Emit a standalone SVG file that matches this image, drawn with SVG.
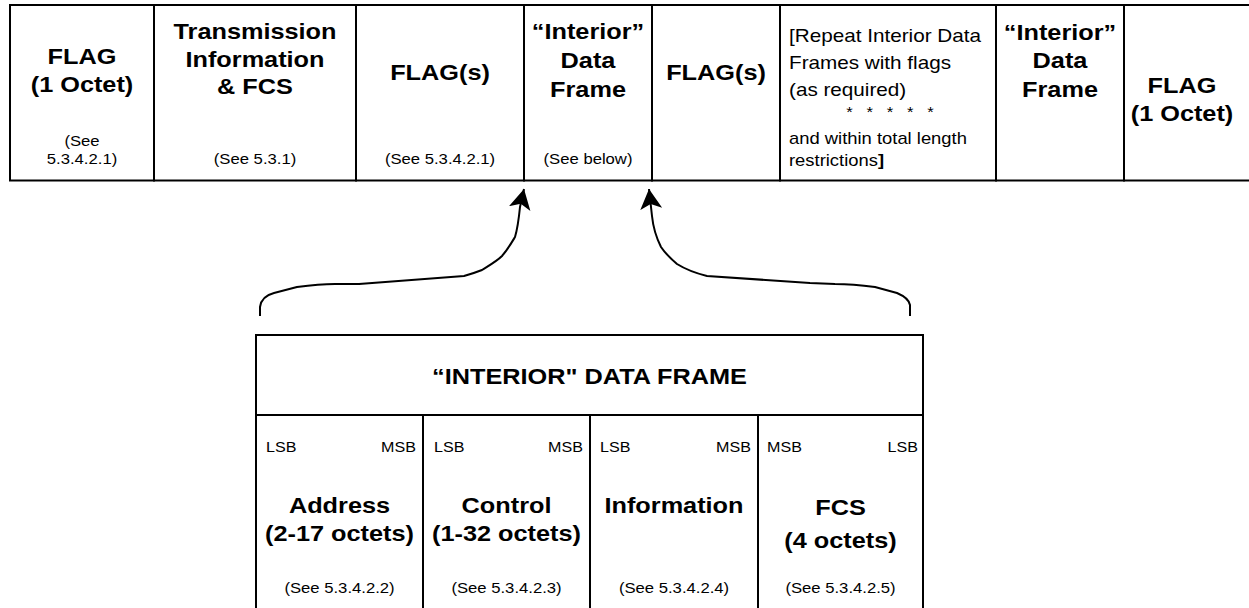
<svg xmlns="http://www.w3.org/2000/svg" width="1249" height="608" viewBox="0 0 1249 608">
<style>
.cell{fill:#fff;stroke:#000;stroke-width:2}
.b{font-family:"Liberation Sans",Arial,sans-serif;font-weight:bold;font-size:22px;fill:#000;text-anchor:middle}
.s{font-family:"Liberation Sans",Arial,sans-serif;font-size:14.5px;fill:#000;text-anchor:middle}
.r{font-family:"Liberation Sans",Arial,sans-serif;font-size:18px;fill:#000}
.lbl{font-family:"Liberation Sans",Arial,sans-serif;font-size:14px;fill:#000}
.end{text-anchor:end}
.conn{fill:none;stroke:#000;stroke-width:2;stroke-linejoin:round}
</style>
<defs>
<marker id="ah" markerUnits="userSpaceOnUse" markerWidth="22" markerHeight="24" refX="20" refY="12" orient="auto">
<path d="M20,12 L0,1 L5,12 L0,23 z" fill="#000"/>
</marker>
</defs>
<rect width="1249" height="608" fill="#fff"/>

<g id="top-flag1">
<rect class="cell" x="10" y="5" width="144" height="175.5"/>
<g transform="translate(82,0) scale(1.15,1)">
<text class="b" x="0" y="64">FLAG</text>
<text class="b" x="0" y="92">(1 Octet)</text>
<text class="s" x="0" y="146">(See</text>
<text class="s" x="0" y="164">5.3.4.2.1)</text>
</g>
</g>

<g id="top-transmission">
<rect class="cell" x="154" y="5" width="202" height="175.5"/>
<g transform="translate(255,0) scale(1.15,1)">
<text class="b" x="0" y="39">Transmission</text>
<text class="b" x="0" y="67">Information</text>
<text class="b" x="0" y="94">&amp; FCS</text>
<text class="s" x="0" y="164">(See 5.3.1)</text>
</g>
</g>

<g id="top-flags1">
<rect class="cell" x="356" y="5" width="168" height="175.5"/>
<g transform="translate(440,0) scale(1.15,1)">
<text class="b" x="0" y="80">FLAG(s)</text>
<text class="s" x="0" y="164">(See 5.3.4.2.1)</text>
</g>
</g>

<g id="top-interior1">
<rect class="cell" x="524" y="5" width="128" height="175.5"/>
<g transform="translate(588,0) scale(1.15,1)">
<text class="b" x="0" y="39">“Interior”</text>
<text class="b" x="0" y="68">Data</text>
<text class="b" x="0" y="97">Frame</text>
<text class="s" x="0" y="164">(See below)</text>
</g>
</g>

<g id="top-flags2">
<rect class="cell" x="652" y="5" width="128" height="175.5"/>
<g transform="translate(716,0) scale(1.15,1)">
<text class="b" x="0" y="80">FLAG(s)</text>
</g>
</g>

<g id="top-repeat">
<rect class="cell" x="780" y="5" width="216" height="175.5"/>
<g transform="translate(789,0) scale(1.15,1)">
<text class="r" x="0" y="42">[Repeat Interior Data</text>
<text class="r" x="0" y="69">Frames with flags</text>
<text class="r" x="0" y="96">(as required)</text>
<text class="r" x="0" y="144" style="font-size:16px">and within total length</text>
<text class="r" x="0" y="166" style="font-size:16px">restrictions<tspan font-weight="bold">]</tspan></text>
</g>
<g transform="translate(890,0) scale(1.15,1)">
<text class="s" x="0" y="117" word-spacing="8">* * * * *</text>
</g>
</g>

<g id="top-interior2">
<rect class="cell" x="996" y="5" width="128" height="175.5"/>
<g transform="translate(1060,0) scale(1.15,1)">
<text class="b" x="0" y="40">“Interior”</text>
<text class="b" x="0" y="68">Data</text>
<text class="b" x="0" y="97">Frame</text>
</g>
</g>

<g id="top-flag2">
<rect class="cell" x="1124" y="5" width="140" height="175.5"/>
<g transform="translate(1182,0) scale(1.15,1)">
<text class="b" x="0" y="93">FLAG</text>
<text class="b" x="0" y="121">(1 Octet)</text>
</g>
</g>

<g id="connectors">
<path class="conn" marker-end="url(#ah)" d="M260,316 L260,307 C261,300 266,295 274,293 L297,287 C312,285 325,284 335,284 L359,284 L464,276 C471,274 477,272 482,270 C490,265 497,261 502,256 C508,249 512,242 515,237 C518,227 519,217 520,207 L524,189"/>
<path class="conn" marker-end="url(#ah)" d="M910,316 L910,305 C909,299 904,296 897,293 L875,287 C860,285 845,284 835,284 L810,283 L707,276 C695,273 685,269 677,264 C670,258 665,253 661,247 C656,237 653,226 652,216 L649,189"/>
</g>

<g id="interior-header">
<rect class="cell" x="256" y="335" width="667" height="80"/>
<g transform="translate(589.5,0) scale(1.15,1)">
<text class="b" x="0" y="384">“INTERIOR" DATA FRAME</text>
</g>
</g>

<g id="field-address">
<rect class="cell" x="256" y="415" width="167" height="220"/>
<g transform="translate(266,0) scale(1.15,1)"><text class="lbl" x="0" y="452">LSB</text></g>
<g transform="translate(416,0) scale(1.15,1)"><text class="lbl end" x="0" y="452">MSB</text></g>
<g transform="translate(339.5,0) scale(1.15,1)">
<text class="b" x="0" y="513">Address</text>
<text class="b" x="0" y="541">(2-17 octets)</text>
<text class="s" x="0" y="593">(See 5.3.4.2.2)</text>
</g>
</g>

<g id="field-control">
<rect class="cell" x="423" y="415" width="167" height="220"/>
<g transform="translate(434,0) scale(1.15,1)"><text class="lbl" x="0" y="452">LSB</text></g>
<g transform="translate(583,0) scale(1.15,1)"><text class="lbl end" x="0" y="452">MSB</text></g>
<g transform="translate(506.5,0) scale(1.15,1)">
<text class="b" x="0" y="513">Control</text>
<text class="b" x="0" y="541">(1-32 octets)</text>
<text class="s" x="0" y="593">(See 5.3.4.2.3)</text>
</g>
</g>

<g id="field-information">
<rect class="cell" x="590" y="415" width="168" height="220"/>
<g transform="translate(600,0) scale(1.15,1)"><text class="lbl" x="0" y="452">LSB</text></g>
<g transform="translate(751,0) scale(1.15,1)"><text class="lbl end" x="0" y="452">MSB</text></g>
<g transform="translate(674,0) scale(1.15,1)">
<text class="b" x="0" y="513">Information</text>
<text class="s" x="0" y="593">(See 5.3.4.2.4)</text>
</g>
</g>

<g id="field-fcs">
<rect class="cell" x="758" y="415" width="165" height="220"/>
<g transform="translate(767,0) scale(1.15,1)"><text class="lbl" x="0" y="452">MSB</text></g>
<g transform="translate(918,0) scale(1.15,1)"><text class="lbl end" x="0" y="452">LSB</text></g>
<g transform="translate(840.5,0) scale(1.15,1)">
<text class="b" x="0" y="515">FCS</text>
<text class="b" x="0" y="548">(4 octets)</text>
<text class="s" x="0" y="593">(See 5.3.4.2.5)</text>
</g>
</g>
</svg>
